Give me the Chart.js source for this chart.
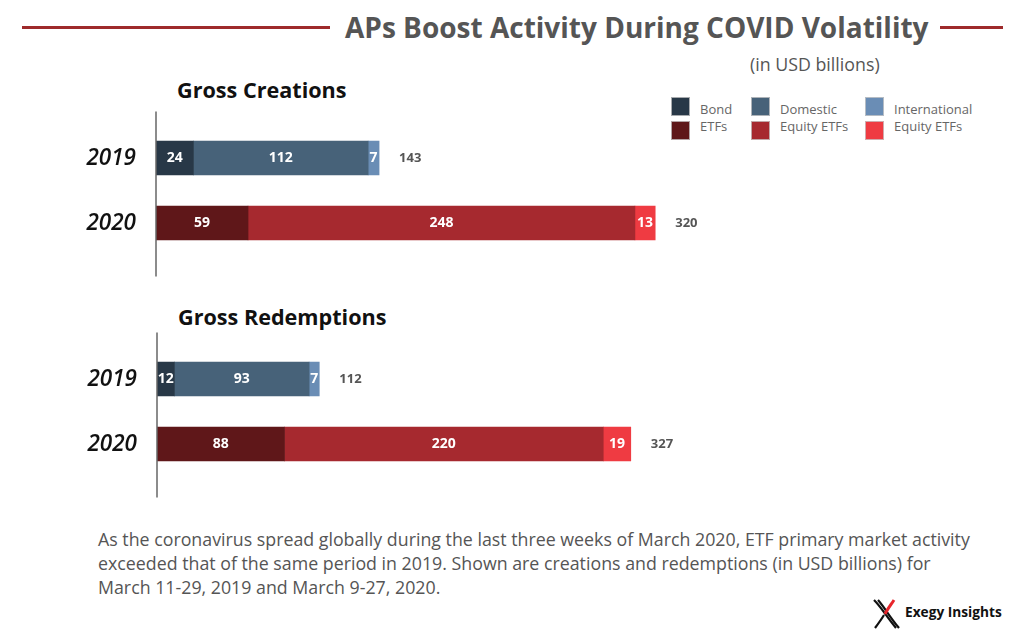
<!DOCTYPE html>
<html>
<head>
<meta charset="utf-8">
<script src="https://cdn.jsdelivr.net/npm/chart.js@4.4.1/dist/chart.umd.min.js"></script>
<style>
  body { margin: 0; background: #fff; font-family: "Open Sans", sans-serif; }
  #page { position: relative; width: 1024px; height: 640px; overflow: hidden; }
  .abs { position: absolute; }
  .rule { position: absolute; height: 3px; background: #9e2a2b; top: 26px; }
  #title { left: 345px; top: 8px; font-size: 28px; line-height: 38px; font-weight: 700; color: #555; white-space: nowrap; }
  #unit { left: 750px; top: 52px; font-size: 17.8px; line-height: 24px; color: #555; }
  .panel-title { font-size: 21.6px; line-height: 28px; font-weight: 700; color: #111; }
  .swatch { position: absolute; width: 19px; height: 19px; box-sizing: border-box; border: 1px solid rgba(200,200,200,0.8); }
  .leg-text { position: absolute; font-size: 13px; line-height: 17px; color: #666; white-space: nowrap; }
  #caption { left: 98px; top: 527px; font-size: 17.8px; line-height: 24px; color: #555; white-space: nowrap; }
  #brand { left: 905px; top: 602px; font-size: 13.7px; line-height: 20px; font-weight: 700; color: #111; }
  canvas { position: absolute; left: 0; }
</style>
</head>
<body>
<div id="page">
  <div class="rule" style="left:22px;width:308px"></div>
  <div class="rule" style="left:940px;width:63px"></div>
  <div id="title" class="abs">APs Boost Activity During COVID Volatility</div>
  <div id="unit" class="abs">(in USD billions)</div>
  <div id="legend"></div>
  <div class="abs panel-title" style="left:177px;top:76px">Gross Creations</div>
  <div class="abs panel-title" style="left:178px;top:303px">Gross Redemptions</div>
  <canvas id="creations" width="780" height="190" style="top:100px"></canvas>
  <canvas id="redemptions" width="780" height="190" style="top:320px"></canvas>
  <div id="caption" class="abs">As the coronavirus spread globally during the last three weeks of March 2020, ETF primary market activity<br>exceeded that of the same period in 2019. Shown are creations and redemptions (in USD billions) for<br>March 11-29, 2019 and March 9-27, 2020.</div>
  <svg class="abs" style="left:872px;top:598px" width="30" height="32" viewBox="0 0 30 32">
    <path d="M2 2 C10 10, 14 18, 24 30" stroke="#111" stroke-width="2.2" fill="none"/>
    <path d="M6 2 C13 10, 17 18, 27 30" stroke="#111" stroke-width="2.2" fill="none"/>
    <path d="M22 2 C18 8, 15 12, 13 16" stroke="#e8262c" stroke-width="3" fill="none"/>
    <path d="M12 17 C9 22, 6 26, 3 30" stroke="#111" stroke-width="2.2" fill="none"/>
  </svg>
  <div id="brand" class="abs">Exegy Insights</div>
</div>
<script>
const years = ["2019", "2020"];
const legendLines = [["Bond", "ETFs"], ["Domestic", "Equity ETFs"], ["International", "Equity ETFs"]];
const colors2019 = ["#283847", "#476279", "#6a8db5"];
const colors2020 = ["#5f1719", "#a6292f", "#ef3b42"];

const creationsBond = [24, 59];
const creationsDomestic = [112, 248];
const creationsIntl = [7, 13];

const redemptionsBond = [12, 88];
const redemptionsDomestic = [93, 220];
const redemptionsIntl = [7, 19];

// legend: 2019 colour on top, 2020 colour below, two-line label
const legendLeft = [671, 751, 865];
const legendEl = document.getElementById("legend");
legendLines.forEach((lines, i) => {
  legendEl.insertAdjacentHTML("beforeend",
    `<div class="swatch" style="left:${legendLeft[i]}px;top:97px;background:${colors2019[i]}"></div>` +
    `<div class="swatch" style="left:${legendLeft[i]}px;top:121px;background:${colors2020[i]}"></div>` +
    `<div class="leg-text" style="left:${legendLeft[i] + 29}px;top:101px">${lines[0]}<br>${lines[1]}</div>`);
});

// segment values, totals, year labels and the axis line
const barLabels = {
  id: "barLabels",
  afterDatasetsDraw(chart) {
    const { ctx, scales } = chart;
    const area = chart.chartArea;
    ctx.save();
    ctx.textBaseline = "middle";
    ctx.textAlign = "center";
    ctx.fillStyle = "#fff";
    ctx.font = "700 14px 'Open Sans'";
    chart.data.datasets.forEach((ds, di) => {
      chart.getDatasetMeta(di).data.forEach((bar, i) => {
        ctx.fillText(ds.data[i], (bar.x + bar.base) / 2, bar.y);
      });
    });
    chart.data.labels.forEach((lab, i) => {
      const total = chart.data.datasets.reduce((s, ds) => s + ds.data[i], 0);
      const y = scales.y.getPixelForValue(i);
      ctx.textAlign = "left";
      ctx.fillStyle = "#555";
      ctx.font = "700 13px 'Open Sans'";
      ctx.fillText(total, scales.x.getPixelForValue(total) + 20, y);
      ctx.textAlign = "right";
      ctx.fillStyle = "#111";
      ctx.font = "italic 600 22.5px 'Open Sans'";
      ctx.fillText(lab, area.left - 20, y + 1);
    });
    ctx.strokeStyle = "#666";
    ctx.lineWidth = 1.5;
    ctx.beginPath();
    ctx.moveTo(area.left, area.top - 14);
    ctx.lineTo(area.left, area.bottom + 21);
    ctx.stroke();
    ctx.restore();
  }
};

function makeChart(id, bond, domestic, intl, xMax, axisLeft, padTop) {
  const series = [bond, domestic, intl];
  return new Chart(document.getElementById(id), {
    type: "bar",
    data: {
      labels: years,
      datasets: series.map((values, i) => ({
        label: legendLines[i].join(" "),
        data: values,
        backgroundColor: [colors2019[i], colors2020[i]],
        barThickness: 34,
        borderWidth: 0,
      })),
    },
    options: {
      indexAxis: "y",
      responsive: false,
      animation: false,
      layout: { padding: { top: padTop, bottom: 190 - padTop - 130, right: 0, left: axisLeft } },
      plugins: { legend: { display: false }, tooltip: { enabled: false } },
      scales: {
        x: { stacked: true, display: false, min: 0, max: xMax },
        y: { stacked: true, display: false },
      },
    },
    plugins: [barLabels],
  });
}

makeChart("creations", creationsBond, creationsDomestic, creationsIntl, 400, 156, 25.5);
makeChart("redemptions", redemptionsBond, redemptionsDomestic, redemptionsIntl, 430, 157, 26.5);
</script>
</body>
</html>
